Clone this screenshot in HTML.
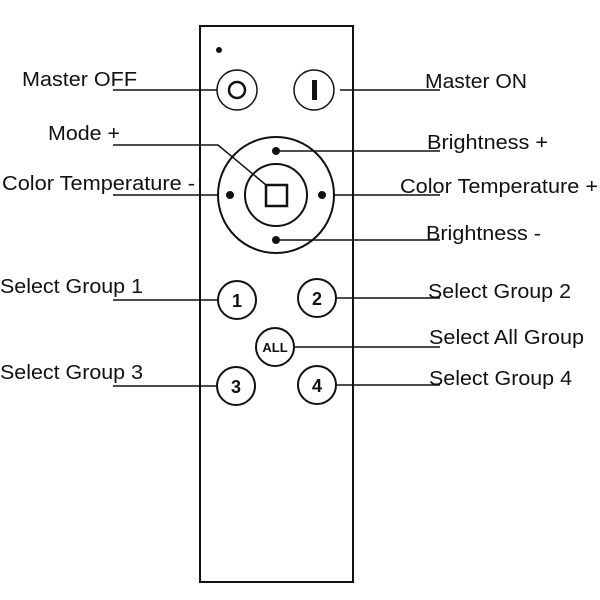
<!DOCTYPE html>
<html><head><meta charset="utf-8"><style>html,body{margin:0;padding:0;background:#fff}svg{display:block}</style></head>
<body>
<svg width="600" height="600" viewBox="0 0 600 600" xmlns="http://www.w3.org/2000/svg" font-family="Liberation Sans, Arial, sans-serif" font-size="20" fill="#111">
<rect width="600" height="600" fill="#fff"/>
<rect x="200" y="26" width="153" height="556" fill="#fff" stroke="#111" stroke-width="2"/>
<circle cx="219" cy="50" r="3"/>
<g fill="none" stroke="#111">
<circle cx="237" cy="90" r="20" stroke-width="1.5"/>
<circle cx="237" cy="90" r="8" stroke-width="2.5"/>
<circle cx="314" cy="90" r="20" stroke-width="1.5"/>
<circle cx="276" cy="195" r="58" stroke-width="2"/>
<circle cx="276" cy="195" r="31" stroke-width="2"/>
<rect x="266" y="185" width="21" height="21" stroke-width="2.5"/>
<circle cx="237" cy="300" r="19" stroke-width="2"/>
<circle cx="317" cy="298" r="19" stroke-width="2"/>
<circle cx="275" cy="347" r="19" stroke-width="2"/>
<circle cx="236" cy="386" r="19" stroke-width="2"/>
<circle cx="317" cy="385" r="19" stroke-width="2"/>
<g stroke-width="1.5">
<line x1="113" y1="90" x2="217" y2="90"/>
<polyline points="113,145 218,145 266,185"/>
<line x1="113" y1="195" x2="218" y2="195"/>
<line x1="340" y1="90" x2="440" y2="90"/>
<line x1="276" y1="151" x2="440" y2="151"/>
<line x1="334" y1="195" x2="440" y2="195"/>
<line x1="276" y1="240" x2="440" y2="240"/>
<line x1="113" y1="300" x2="218" y2="300"/>
<line x1="336" y1="298" x2="440" y2="298"/>
<line x1="294" y1="347" x2="440" y2="347"/>
<line x1="113" y1="386" x2="217" y2="386"/>
<line x1="336" y1="385" x2="440" y2="385"/>
</g>
</g>
<rect x="312" y="80" width="5" height="20"/>
<circle cx="276" cy="151" r="4"/>
<circle cx="276" cy="240" r="4"/>
<circle cx="230" cy="195" r="4"/>
<circle cx="322" cy="195" r="4"/>
<g font-weight="bold" text-anchor="middle">
<text x="237" y="307" font-size="18">1</text>
<text x="317" y="305" font-size="18">2</text>
<text x="236" y="393" font-size="18">3</text>
<text x="317" y="392" font-size="18">4</text>
<text x="275" y="352" font-size="13">ALL</text>
</g>
<g>
<text x="22" y="86" textLength="115" lengthAdjust="spacingAndGlyphs">Master OFF</text>
<text x="48" y="140" textLength="72" lengthAdjust="spacingAndGlyphs">Mode +</text>
<text x="2" y="190" textLength="193" lengthAdjust="spacingAndGlyphs">Color Temperature -</text>
<text x="0" y="293" textLength="143" lengthAdjust="spacingAndGlyphs">Select Group 1</text>
<text x="0" y="379" textLength="143" lengthAdjust="spacingAndGlyphs">Select Group 3</text>
<text x="425" y="88" textLength="102" lengthAdjust="spacingAndGlyphs">Master ON</text>
<text x="427" y="149" textLength="121" lengthAdjust="spacingAndGlyphs">Brightness +</text>
<text x="400" y="193" textLength="198" lengthAdjust="spacingAndGlyphs">Color Temperature +</text>
<text x="426" y="240" textLength="115" lengthAdjust="spacingAndGlyphs">Brightness -</text>
<text x="428" y="298" textLength="143" lengthAdjust="spacingAndGlyphs">Select Group 2</text>
<text x="429" y="344" textLength="155" lengthAdjust="spacingAndGlyphs">Select All Group</text>
<text x="429" y="385" textLength="143" lengthAdjust="spacingAndGlyphs">Select Group 4</text>
</g>
</svg>
</body></html>
